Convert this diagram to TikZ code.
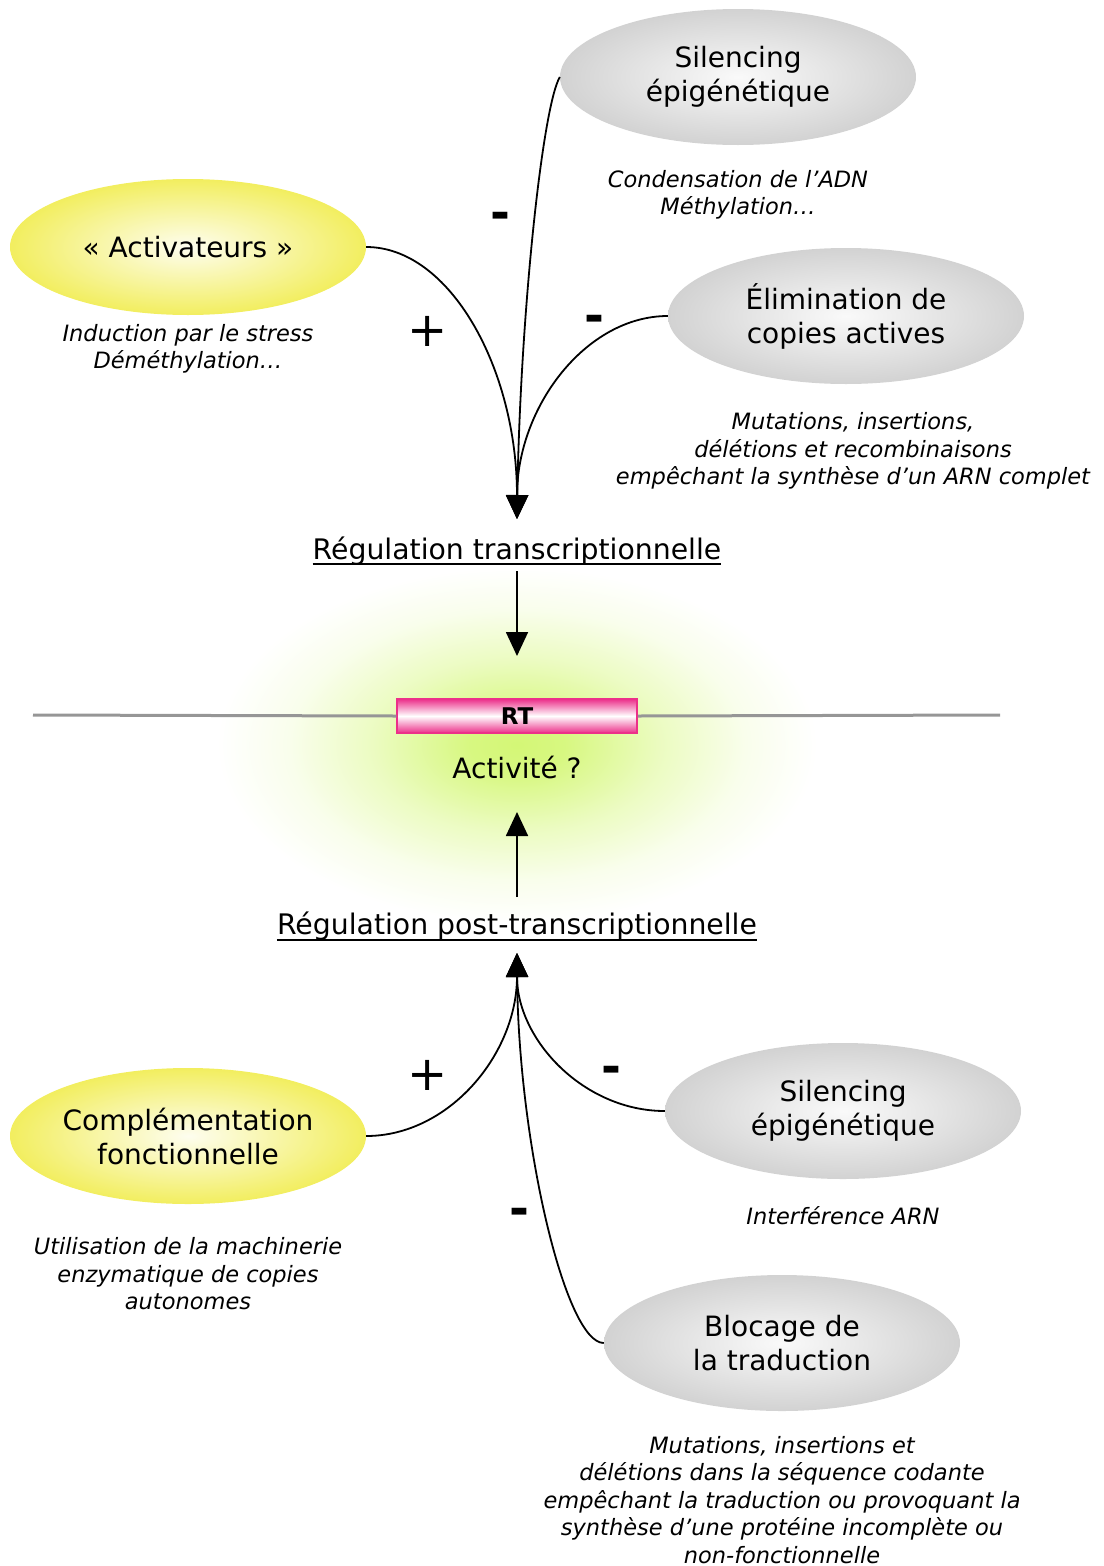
\documentclass[tikz,border=0pt]{standalone}
\usepackage{fontspec}
\setmainfont{DejaVu Sans}
\usetikzlibrary{shapes.geometric,arrows.meta}

\definecolor{yellowedge}{RGB}{242,238,95}
\definecolor{grayedge}{RGB}{210,210,210}
\definecolor{glowc}{RGB}{212,247,118}
\definecolor{rtpink}{RGB}{236,48,138}
\definecolor{axisgray}{RGB}{150,150,150}

% soft green halo around the RT element
\pgfdeclareradialshading{glow}{\pgfpoint{0bp}{0bp}}{%
  color(0bp)=(glowc); color(4bp)=(glowc!92!white);
  color(12bp)=(glowc!45!white); color(19bp)=(glowc!14!white);
  color(25bp)=(white); color(50bp)=(white)}

\tikzset{
  bubble/.style={ellipse, minimum width=356pt, minimum height=136pt,
    inner sep=0pt, align=center, font=\fontsize{28}{34}\selectfont},
  yellowbubble/.style={bubble, inner color=yellowedge!10!white, outer color=yellowedge},
  graybubble/.style={bubble, inner color=grayedge!12!white, outer color=grayedge},
  note/.style={align=center, inner sep=0pt, font=\fontsize{22.5}{27.5}\selectfont\itshape},
  regul/.style={anchor=base, inner sep=0pt, font=\fontsize{28.3}{34}\selectfont},
  plussign/.style={font=\fontsize{48}{48}\selectfont, inner sep=0pt},
  minussign/.style={font=\bfseries\fontsize{48}{48}\selectfont, inner sep=0pt},
  link/.style={line width=1.8pt},
  tipped/.style={link, -{Triangle[width=22pt,length=24pt]}},
  rtbox/.style={rectangle, minimum width=240pt, minimum height=34pt, inner sep=0pt,
    draw=rtpink, line width=1.5pt, top color=rtpink, bottom color=rtpink,
    middle color=white, font=\bfseries\fontsize{23}{23}\selectfont},
  axisline/.style={draw=axisgray, line width=3pt},
}

\begin{document}
\begin{tikzpicture}[x=1pt, y=-1pt]
\useasboundingbox (0,0) rectangle (1103,1566);

% halo
\shade[shading=glow] (517,745) ellipse [x radius=300pt, y radius=178pt];

% upper regulators
\node[graybubble]   (sil1) at (738,77)  {Silencing\\épigénétique};
\node[yellowbubble] (act)  at (188,247) {« Activateurs »};
\node[graybubble]   (elim) at (846,316) {Élimination de\\copies actives};

\node[note] at (738,195) {Condensation de l’ADN\\Méthylation…};
\node[note] at (188,349) {Induction par le stress\\Déméthylation…};
\node[note] at (853,451) {Mutations, insertions,\\délétions et recombinaisons\\empêchant la synthèse d’un ARN complet};

% transcriptional regulation
\node[regul] (reg1) at (517,559) {Régulation transcriptionnelle};
\draw[link] ([yshift=-5pt]reg1.base west) -- ([yshift=-5pt]reg1.base east);
\coordinate (top1) at (517,519);

\draw[tipped] (act.east) .. controls (450,247) and (517,369) .. (top1);
\draw[tipped] (sil1.west) .. controls (542,108) and (520,320) .. (top1);
\draw[tipped] (elim.west) .. controls (586,316) and (517,407) .. (top1);

\node[plussign]  at (428,331) {+};
\node[minussign] at (500,221) {-};
\node[minussign] at (594,324) {-};

% the element itself
\coordinate (axL) at (33,715);
\coordinate (axR) at (1000,715);
\node[rtbox] (rt) at (517,716) {RT};
\draw[axisline] (axL) -- (rt.west);
\draw[axisline] (rt.east) -- (axR);
\node[font=\fontsize{28}{34}\selectfont] (act2) at (517,767) {Activité ?};

\coordinate (down1) at (517,656);
\draw[tipped] ([yshift=-12pt]reg1.base) -- (down1);

% post-transcriptional regulation
\node[regul] (reg2) at (517,934) {Régulation post-transcriptionnelle};
\draw[link] ([yshift=-6pt]reg2.base west) -- ([yshift=-6pt]reg2.base east);
\coordinate (up1) at (517,812);
\draw[tipped] (517,897) -- (up1);
\coordinate (bot1) at (517,953);

\node[yellowbubble] (comp) at (188,1136) {Complémentation\\fonctionnelle};
\node[graybubble]   (sil2) at (843,1111) {Silencing\\épigénétique};
\node[graybubble]   (bloc) at (782,1343) {Blocage de\\la traduction};

\node[note] at (188,1274) {Utilisation de la machinerie\\enzymatique de copies\\autonomes};
\node[note] at (843,1216) {Interférence ARN};
\node[note] at (782,1500) {Mutations, insertions et\\délétions dans la séquence codante\\empêchant la traduction ou provoquant la\\synthèse d’une protéine incomplète ou\\non-fonctionnelle};

\draw[tipped] (comp.east) .. controls (449,1136) and (517,1054) .. (bot1);
\draw[tipped] (sil2.west) .. controls (584,1111) and (517,1040) .. (bot1);
\draw[tipped] (bloc.west) .. controls (565,1343) and (518,1140) .. (bot1);

\node[plussign]  at (428,1075) {+};
\node[minussign] at (611,1075) {-};
\node[minussign] at (519,1217) {-};
\end{tikzpicture}
\end{document}
